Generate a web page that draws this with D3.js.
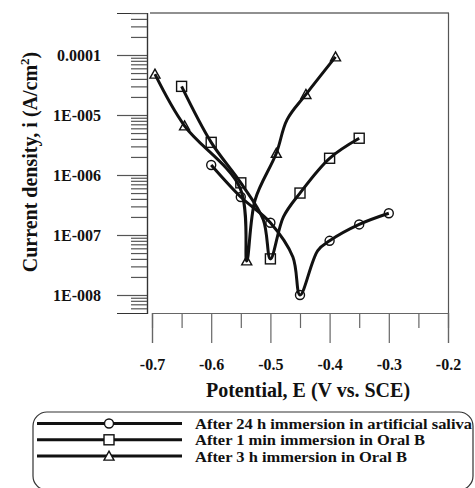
<!DOCTYPE html>
<html>
<head>
<meta charset="utf-8">
<script src="https://cdn.jsdelivr.net/npm/d3@7"></script>
<style>
  body { margin: 0; background: #fff; }
  svg { display: block; font-family: "Liberation Serif", "Times New Roman", serif; font-weight: bold; }
</style>
</head>
<body>
<div id="chart"></div>
<script>
// Polarization curves: [potential (V vs SCE), current density (A/cm2), has marker]
const salivaCurve = [
    [-0.60, 1.47e-6, true], [-0.55, 4.3e-7, true], [-0.50, 1.6e-7, true],
    [-0.462, 4.3e-8, false], [-0.45, 1.0e-8, true], [-0.42, 5.5e-8, false],
    [-0.40, 8.0e-8, true], [-0.35, 1.5e-7, true], [-0.30, 2.3e-7, true]
];
const oralB1minCurve = [
    [-0.65, 3.0e-5, true], [-0.60, 3.5e-6, true], [-0.55, 7.4e-7, true],
    [-0.512, 1.8e-7, false], [-0.50, 4.0e-8, true], [-0.478, 2.0e-7, false],
    [-0.45, 5.0e-7, true], [-0.40, 1.9e-6, true], [-0.35, 4.1e-6, true]
];
const oralB3hCurve = [
    [-0.695, 4.8e-5, true], [-0.645, 6.6e-6, true], [-0.551, 6.0e-7, false],
    [-0.54, 3.7e-8, true], [-0.526, 3.8e-7, false], [-0.49, 2.3e-6, true],
    [-0.472, 8.3e-6, false], [-0.44, 2.2e-5, true], [-0.39, 9.3e-5, true]
];

const legendLabels = [
    "After 24 h immersion in artificial saliva",
    "After 1 min immersion in Oral B",
    "After 3 h immersion in Oral B"
];
const markerKinds = ["circle", "square", "triangle"];

const xTicks = [-0.7, -0.6, -0.5, -0.4, -0.3, -0.2];
const xMinorTicks = [-0.65, -0.55, -0.45, -0.35, -0.25];
const yTicks = [1e-8, 1e-7, 1e-6, 1e-5, 1e-4];
const yTickLabels = ["1E-008", "1E-007", "1E-006", "1E-005", "0.0001"];

const width = 475, height = 488;

const svg = d3.select("#chart").append("svg")
    .attr("width", width)
    .attr("height", height);

const scaleX = d3.scaleLinear([-0.7, -0.2], [152, 448]);
const scaleY = d3.scaleLog([Math.pow(10, -8.3), Math.pow(10, -3.3)], [313, 13]);

// minor ticks for the log axis: 2..9 x each decade inside the domain
const yMinorTicks = [];
for (let e = -9; e <= -4; e++) {
    for (let m = 2; m <= 9; m++) {
        const v = m * Math.pow(10, e);
        if (v >= scaleY.domain()[0] && v <= scaleY.domain()[1]) yMinorTicks.push(v);
    }
}

// frame: top and right border
svg.append("line").attr("x1", 150).attr("x2", 449).attr("y1", 13).attr("y2", 13)
    .attr("stroke", "#222").attr("stroke-width", 1.2);
svg.append("line").attr("x1", 448.5).attr("x2", 448.5).attr("y1", 13).attr("y2", 313)
    .attr("stroke", "#555").attr("stroke-width", 1.2);

function styleTickText(sel) {
    sel.style("font-family", "Liberation Serif, serif")
        .style("font-weight", "bold")
        .style("font-size", "16px")
        .attr("fill", "#111");
}

// y axis
const axisY = svg.append("g").attr("transform", "translate(147,0)");
const axisYMajor = axisY.append("g")
    .call(d3.axisLeft(scaleY).tickValues(yTicks).tickSize(30).tickPadding(16)
        .tickFormat((d, i) => yTickLabels[i]));
axisYMajor.selectAll("text").call(styleTickText);
axisY.append("g").call(d3.axisLeft(scaleY).tickValues(yMinorTicks).tickSize(16).tickFormat(""));
axisY.selectAll(".domain").attr("stroke", "#333").attr("stroke-width", 1.2);
axisY.selectAll(".tick line").attr("stroke", "#555").attr("stroke-width", 1.2);

// x axis
const axisX = svg.append("g").attr("transform", "translate(0,313)");
const axisXMajor = axisX.append("g")
    .call(d3.axisBottom(scaleX).tickValues(xTicks).tickSize(30).tickPadding(16)
        .tickFormat(d => d3.format(".1f")(d).replace("−", "-")));
axisXMajor.selectAll("text").call(styleTickText);
axisX.append("g").call(d3.axisBottom(scaleX).tickValues(xMinorTicks).tickSize(15).tickFormat(""));
axisX.selectAll(".domain").attr("stroke", "#666").attr("stroke-width", 1.2);
axisX.selectAll(".tick line").attr("stroke", "#666").attr("stroke-width", 1.2);

// axis titles
svg.append("text")
    .attr("x", 308).attr("y", 397)
    .attr("text-anchor", "middle")
    .style("font-size", "20px")
    .attr("fill", "#111")
    .text("Potential, E (V vs. SCE)");

const yTitle = svg.append("text")
    .attr("transform", "translate(37,162) rotate(-90)")
    .attr("text-anchor", "middle")
    .style("font-size", "20px")
    .attr("fill", "#111");
yTitle.append("tspan").text("Current density, i (A/cm");
yTitle.append("tspan").attr("dy", -8).style("font-size", "13px").text("2");
yTitle.append("tspan").attr("dy", 8).text(")");

// markers
function drawMarker(g, kind, x, y) {
    if (kind === "circle") {
        g.append("circle").attr("cx", x).attr("cy", y).attr("r", 4.5);
    } else if (kind === "square") {
        g.append("rect").attr("x", x - 5).attr("y", y - 5).attr("width", 10).attr("height", 10);
    } else {
        g.append("path").attr("d", `M${x},${y - 5}L${x + 5},${y + 4}L${x - 5},${y + 4}Z`);
    }
}

const line = d3.line()
    .x(d => scaleX(d[0]))
    .y(d => scaleY(d[1]))
    .curve(d3.curveCatmullRom.alpha(0.5));

const curves = [salivaCurve, oralB1minCurve, oralB3hCurve];
curves.forEach(data => {
    svg.append("path")
        .datum(data)
        .attr("d", line)
        .attr("fill", "none")
        .attr("stroke", "#111")
        .attr("stroke-width", 3)
        .attr("stroke-linejoin", "round");
});
curves.forEach((data, k) => {
    const g = svg.append("g").attr("fill", "none").attr("stroke", "#111").attr("stroke-width", 1.4);
    data.filter(d => d[2]).forEach(d => drawMarker(g, markerKinds[k], scaleX(d[0]), scaleY(d[1])));
});

// legend
const legend = svg.append("g");
legend.append("rect")
    .attr("x", 33).attr("y", 412).attr("width", 440).attr("height", 78)
    .attr("rx", 14)
    .attr("fill", "none").attr("stroke", "#333").attr("stroke-width", 1.2);

const legendWidths = [277, 230, 212];
legendLabels.forEach((label, k) => {
    const y = 423.5 + k * 16.3;
    legend.append("line")
        .attr("x1", 37).attr("x2", 182).attr("y1", y).attr("y2", y)
        .attr("stroke", "#111").attr("stroke-width", 3);
    const g = legend.append("g").attr("fill", "#fff").attr("stroke", "#111").attr("stroke-width", 1.4);
    drawMarker(g, markerKinds[k], 109, y);
    legend.append("text")
        .attr("x", 195).attr("y", y + 5.5)
        .style("font-size", "15px")
        .attr("fill", "#111")
        .attr("textLength", legendWidths[k])
        .attr("lengthAdjust", "spacingAndGlyphs")
        .text(label);
});
</script>
</body>
</html>
